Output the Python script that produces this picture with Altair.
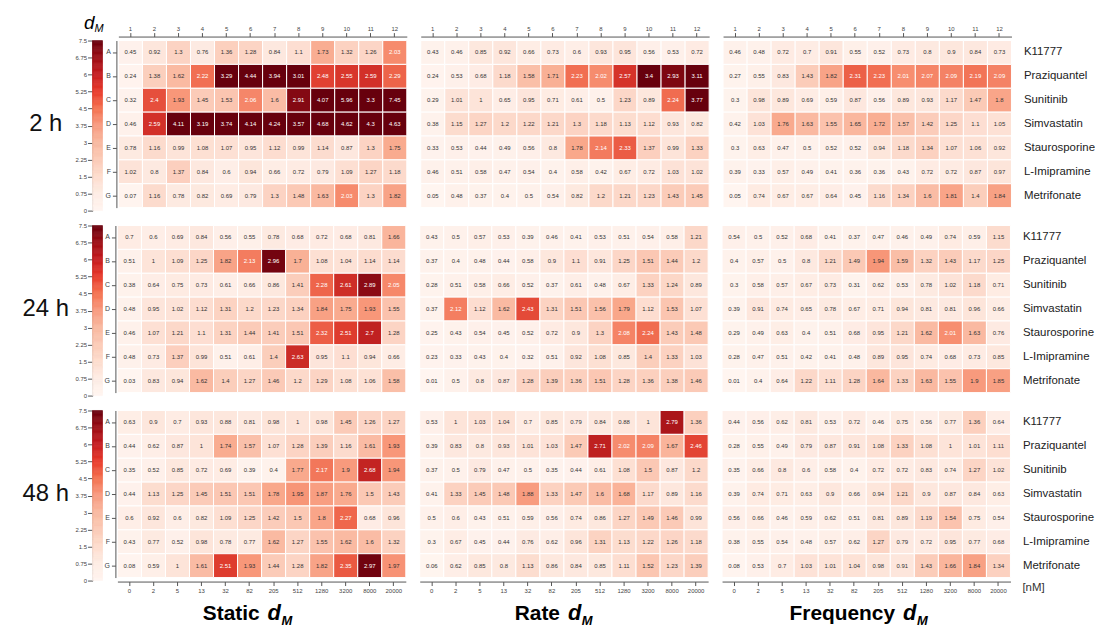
import altair as alt
import pandas as pd
import numpy as np

FONT = "Liberation Sans, Arial, sans-serif"

row_letters = ["A", "B", "C", "D", "E", "F", "G"]
compounds = ["K11777", "Praziquantel", "Sunitinib", "Simvastatin", "Staurosporine", "L-Imipramine", "Metrifonate"]
conc_labels = ["0", "2", "5", "13", "32", "82", "205", "512", "1280", "3200", "8000", "20000"]
col_index = list(range(1, 13))
time_labels = ["2 h", "24 h", "48 h"]
metric_labels = ["Static", "Rate", "Frequency"]
colorbar_ticks = [0, 0.75, 1.5, 2.25, 3, 3.75, 4.5, 5.25, 6, 6.75, 7.5]

# colour stops (value -> colour) for the cells and for the colour bar
cell_stops = [0, 0.5, 1.0, 1.5, 1.75, 2.0, 2.25, 2.5, 2.75, 3.0]
cell_colors = ["#fff5f0", "#fef1eb", "#fde4d9", "#fbc8b4", "#f9ab8f", "#f78f71", "#f06b4f", "#e03d2f", "#b81a1d", "#67000d"]
bar_colors = ["#fff5f0", "#feece4", "#fddccd", "#fbcab6", "#f9b89f", "#f89a7f",
              "#f4714f", "#e8392a", "#c51b1f", "#9c0d14", "#67000d"]

static_2h = [
    [0.45, 0.92, 1.3, 0.76, 1.36, 1.28, 0.84, 1.1, 1.73, 1.32, 1.26, 2.03],
    [0.24, 1.38, 1.62, 2.22, 3.29, 4.44, 3.94, 3.01, 2.48, 2.55, 2.59, 2.29],
    [0.32, 2.4, 1.93, 1.45, 1.53, 2.06, 1.6, 2.91, 4.07, 5.96, 3.3, 7.45],
    [0.46, 2.59, 4.11, 3.19, 3.74, 4.14, 4.24, 3.57, 4.68, 4.62, 4.3, 4.63],
    [0.78, 1.16, 0.99, 1.08, 1.07, 0.95, 1.12, 0.99, 1.14, 0.87, 1.3, 1.75],
    [1.02, 0.8, 1.37, 0.84, 0.6, 0.94, 0.66, 0.72, 0.79, 1.09, 1.27, 1.18],
    [0.07, 1.16, 0.78, 0.82, 0.69, 0.79, 1.3, 1.48, 1.63, 2.03, 1.3, 1.82],
]
rate_2h = [
    [0.43, 0.46, 0.85, 0.92, 0.66, 0.73, 0.6, 0.93, 0.95, 0.56, 0.53, 0.72],
    [0.24, 0.53, 0.68, 1.18, 1.58, 1.71, 2.23, 2.02, 2.57, 3.4, 2.93, 3.11],
    [0.29, 1.01, 1, 0.65, 0.95, 0.71, 0.61, 0.5, 1.23, 0.89, 2.24, 3.77],
    [0.38, 1.15, 1.27, 1.2, 1.22, 1.21, 1.3, 1.18, 1.13, 1.12, 0.93, 0.82],
    [0.33, 0.53, 0.44, 0.49, 0.56, 0.8, 1.78, 2.14, 2.33, 1.37, 0.99, 1.33],
    [0.46, 0.51, 0.58, 0.47, 0.54, 0.4, 0.58, 0.42, 0.67, 0.72, 1.03, 1.02],
    [0.05, 0.48, 0.37, 0.4, 0.5, 0.54, 0.82, 1.2, 1.21, 1.23, 1.43, 1.45],
]
freq_2h = [
    [0.46, 0.48, 0.72, 0.7, 0.91, 0.55, 0.52, 0.73, 0.8, 0.9, 0.84, 0.73],
    [0.27, 0.55, 0.83, 1.43, 1.82, 2.31, 2.23, 2.01, 2.07, 2.09, 2.19, 2.09],
    [0.3, 0.98, 0.89, 0.69, 0.59, 0.87, 0.56, 0.89, 0.93, 1.17, 1.47, 1.8],
    [0.42, 1.03, 1.76, 1.63, 1.55, 1.65, 1.72, 1.57, 1.42, 1.25, 1.1, 1.05],
    [0.3, 0.63, 0.47, 0.5, 0.52, 0.52, 0.94, 1.18, 1.34, 1.07, 1.06, 0.92],
    [0.39, 0.33, 0.57, 0.49, 0.41, 0.36, 0.36, 0.43, 0.72, 0.72, 0.87, 0.97],
    [0.05, 0.74, 0.67, 0.67, 0.64, 0.45, 1.16, 1.34, 1.6, 1.81, 1.4, 1.84],
]
static_24h = [
    [0.7, 0.6, 0.69, 0.84, 0.56, 0.55, 0.78, 0.68, 0.72, 0.68, 0.81, 1.66],
    [0.51, 1, 1.09, 1.25, 1.82, 2.13, 2.96, 1.7, 1.08, 1.04, 1.14, 1.14],
    [0.38, 0.64, 0.75, 0.73, 0.61, 0.66, 0.86, 1.41, 2.28, 2.61, 2.89, 2.05],
    [0.48, 0.95, 1.02, 1.12, 1.31, 1.2, 1.23, 1.34, 1.84, 1.75, 1.93, 1.55],
    [0.46, 1.07, 1.21, 1.1, 1.31, 1.44, 1.41, 1.51, 2.32, 2.51, 2.7, 1.28],
    [0.48, 0.73, 1.37, 0.99, 0.51, 0.61, 1.4, 2.63, 0.95, 1.1, 0.94, 0.66],
    [0.03, 0.83, 0.94, 1.62, 1.4, 1.27, 1.46, 1.2, 1.29, 1.08, 1.06, 1.58],
]
rate_24h = [
    [0.43, 0.5, 0.57, 0.53, 0.39, 0.46, 0.41, 0.53, 0.51, 0.54, 0.58, 1.21],
    [0.37, 0.4, 0.48, 0.44, 0.58, 0.9, 1.1, 0.91, 1.25, 1.51, 1.44, 1.2],
    [0.28, 0.51, 0.58, 0.66, 0.52, 0.37, 0.61, 0.48, 0.67, 1.33, 1.24, 0.89],
    [0.37, 2.12, 1.12, 1.62, 2.43, 1.31, 1.51, 1.56, 1.79, 1.12, 1.53, 1.07],
    [0.25, 0.43, 0.54, 0.45, 0.52, 0.72, 0.9, 1.3, 2.08, 2.24, 1.43, 1.48],
    [0.23, 0.33, 0.43, 0.4, 0.32, 0.51, 0.92, 1.08, 0.85, 1.4, 1.33, 1.03],
    [0.01, 0.5, 0.8, 0.87, 1.28, 1.39, 1.36, 1.51, 1.28, 1.36, 1.38, 1.46],
]
freq_24h = [
    [0.54, 0.5, 0.52, 0.68, 0.41, 0.37, 0.47, 0.46, 0.49, 0.74, 0.59, 1.15],
    [0.4, 0.57, 0.5, 0.8, 1.21, 1.49, 1.94, 1.59, 1.32, 1.43, 1.17, 1.25],
    [0.3, 0.58, 0.57, 0.67, 0.73, 0.31, 0.62, 0.53, 0.78, 1.02, 1.18, 0.71],
    [0.39, 0.91, 0.74, 0.65, 0.78, 0.67, 0.71, 0.94, 0.81, 0.81, 0.96, 0.66],
    [0.29, 0.49, 0.63, 0.4, 0.51, 0.68, 0.95, 1.21, 1.62, 2.01, 1.63, 0.76],
    [0.28, 0.47, 0.51, 0.42, 0.41, 0.48, 0.89, 0.95, 0.74, 0.68, 0.73, 0.85],
    [0.01, 0.4, 0.64, 1.22, 1.11, 1.28, 1.64, 1.33, 1.63, 1.55, 1.9, 1.85],
]
static_48h = [
    [0.63, 0.9, 0.7, 0.93, 0.88, 0.81, 0.98, 1, 0.98, 1.45, 1.26, 1.27],
    [0.44, 0.62, 0.87, 1, 1.74, 1.57, 1.07, 1.28, 1.39, 1.16, 1.61, 1.93],
    [0.35, 0.52, 0.85, 0.72, 0.69, 0.39, 0.4, 1.77, 2.17, 1.9, 2.68, 1.94],
    [0.44, 1.13, 1.25, 1.45, 1.51, 1.51, 1.78, 1.95, 1.87, 1.76, 1.5, 1.43],
    [0.6, 0.92, 0.6, 0.82, 1.09, 1.25, 1.42, 1.5, 1.8, 2.27, 0.68, 0.96],
    [0.43, 0.77, 0.52, 0.98, 0.78, 0.77, 1.62, 1.27, 1.55, 1.62, 1.6, 1.32],
    [0.08, 0.59, 1, 1.61, 2.51, 1.93, 1.44, 1.28, 1.82, 2.35, 2.97, 1.97],
]
rate_48h = [
    [0.53, 1, 1.03, 1.04, 0.7, 0.85, 0.79, 0.84, 0.88, 1, 2.79, 1.36],
    [0.39, 0.83, 0.8, 0.93, 1.01, 1.03, 1.47, 2.71, 2.02, 2.09, 1.67, 2.46],
    [0.37, 0.5, 0.79, 0.47, 0.5, 0.35, 0.44, 0.61, 1.08, 1.5, 0.87, 1.2],
    [0.41, 1.33, 1.45, 1.48, 1.88, 1.33, 1.47, 1.6, 1.68, 1.17, 0.89, 1.16],
    [0.5, 0.6, 0.43, 0.51, 0.59, 0.56, 0.74, 0.86, 1.27, 1.49, 1.46, 0.99],
    [0.3, 0.67, 0.45, 0.44, 0.76, 0.62, 0.96, 1.31, 1.13, 1.22, 1.26, 1.18],
    [0.06, 0.62, 0.85, 0.8, 1.13, 0.86, 0.84, 0.85, 1.11, 1.52, 1.23, 1.39],
]
freq_48h = [
    [0.44, 0.56, 0.62, 0.81, 0.53, 0.72, 0.46, 0.75, 0.56, 0.77, 1.36, 0.64],
    [0.28, 0.55, 0.49, 0.79, 0.87, 0.91, 1.08, 1.33, 1.08, 1, 1.01, 1.11],
    [0.35, 0.66, 0.8, 0.6, 0.58, 0.4, 0.72, 0.72, 0.83, 0.74, 1.27, 1.02],
    [0.39, 0.74, 0.71, 0.63, 0.9, 0.66, 0.94, 1.21, 0.9, 0.87, 0.84, 0.63],
    [0.56, 0.66, 0.46, 0.59, 0.62, 0.51, 0.81, 0.89, 1.19, 1.54, 0.75, 0.54],
    [0.38, 0.55, 0.54, 0.48, 0.57, 0.62, 1.27, 0.79, 0.72, 0.95, 0.77, 0.68],
    [0.08, 0.53, 0.7, 1.03, 1.01, 1.04, 0.98, 0.91, 1.43, 1.66, 1.84, 1.34],
]

panels = [
    [static_2h, rate_2h, freq_2h],
    [static_24h, rate_24h, freq_24h],
    [static_48h, rate_48h, freq_48h],
]

W, H = 290, 168
AX = "#555555"

letters_js = "[" + ",".join(f"'{r}'" for r in row_letters) + "]"
names_js = "[" + ",".join(f"'{c}'" for c in compounds) + "]"
conc_js = "[" + ",".join(f"'{c}'" for c in conc_labels) + "]"
name_expr = f"{names_js}[indexof({letters_js}, datum.value)]"
conc_expr = f"{conc_js}[datum.value - 1]"

# (right edge of word, left of "d", left of "M") within each bottom panel
title_pos = {"Static": (143, 151, 165), "Rate": (141, 149, 163), "Frequency": (174, 182, 196)}

cell_scale = alt.Scale(domain=cell_stops, range=cell_colors, interpolate="rgb", clamp=True)
bar_scale = alt.Scale(domain=colorbar_ticks, range=bar_colors, interpolate="rgb", clamp=True)


def heat_panel(vals, metric, t_idx):
    recs = []
    for i, r in enumerate(row_letters):
        for j, c in enumerate(col_index):
            v = vals[i][j]
            recs.append({"row": r, "col": c, "v": v, "label": f"{v:g}"})
    df = pd.DataFrame(recs)

    if t_idx == 0:
        xaxis = alt.Axis(orient="top", title=None, labelFontSize=6, tickSize=4,
                         labelPadding=1, offset=4, labelAngle=0)
    elif t_idx == 2:
        xaxis = alt.Axis(orient="bottom", title=None, labelFontSize=6, tickSize=4,
                         labelPadding=2, offset=4, labelAngle=0, labelExpr=conc_expr)
    else:
        xaxis = None

    if metric == "Static":
        yaxis = alt.Axis(orient="left", title=None, labelFontSize=7, tickSize=4,
                         labelPadding=2, offset=2)
    elif metric == "Frequency":
        yaxis = alt.Axis(orient="right", title=None, labelExpr=name_expr, labelFontSize=11.5,
                         labelColor="#222222", ticks=False, domain=False, labelPadding=12)
    else:
        yaxis = None

    x = alt.X("col:O", axis=xaxis, scale=alt.Scale(paddingInner=0, paddingOuter=0))
    y = alt.Y("row:O", sort=row_letters, axis=yaxis, scale=alt.Scale(paddingInner=0, paddingOuter=0))

    base = alt.Chart(df)
    rect = base.mark_rect(stroke="white", strokeWidth=1).encode(
        x=x, y=y,
        color=alt.Color("v:Q", scale=cell_scale, legend=None),
    )
    txt = base.mark_text(fontSize=6, font=FONT).encode(
        x=x, y=y, text="label:N",
        color=alt.condition(alt.datum.v >= 2, alt.value("white"), alt.value("#333333")),
    )
    layers = [rect, txt]
    if t_idx == 2:
        pw, pd_, pm = title_pos[metric]
        layers.append(alt.Chart(pd.DataFrame({"t": [metric]})).mark_text(
            fontSize=21, fontWeight="bold", font=FONT, align="right", baseline="alphabetic").encode(
            text="t:N", x=alt.value(pw), y=alt.value(H + 43)))
        layers.append(alt.Chart(pd.DataFrame({"t": ["d"]})).mark_text(
            fontSize=22, fontWeight="bold", fontStyle="italic", font=FONT,
            align="left", baseline="alphabetic").encode(
            text="t:N", x=alt.value(pd_), y=alt.value(H + 43)))
        layers.append(alt.Chart(pd.DataFrame({"t": ["M"]})).mark_text(
            fontSize=13, fontWeight="bold", fontStyle="italic", font=FONT,
            align="left", baseline="alphabetic").encode(
            text="t:N", x=alt.value(pm), y=alt.value(H + 48)))
        if metric == "Frequency":
            layers.append(alt.Chart(pd.DataFrame({"t": ["[nM]"]})).mark_text(
                fontSize=11.5, font=FONT, align="left", baseline="middle", color="#333333").encode(
                text="t:N", x=alt.value(W + 12), y=alt.value(H + 10)))
    return alt.layer(*layers).properties(width=W, height=H)


cb_vals = np.round(np.arange(0, 7.5, 0.05), 2)
cb_df = pd.DataFrame({"c": cb_vals, "c2": np.round(cb_vals + 0.05, 2)})


def colorbar(t_idx):
    rect = alt.Chart(cb_df).mark_rect(strokeWidth=0.6).encode(
        y=alt.Y("c:Q", scale=alt.Scale(domain=[0, 7.5], nice=False),
                axis=alt.Axis(values=colorbar_ticks, labelExpr="'' + datum.value", title=None,
                              labelFontSize=6, tickSize=5, labelPadding=1, grid=False)),
        y2="c2:Q",
        x=alt.value(0), x2=alt.value(10),
        color=alt.Color("c:Q", scale=bar_scale, legend=None),
        stroke=alt.Stroke("c:Q", scale=bar_scale, legend=None),
    )
    layers = [rect]
    if t_idx == 0:
        layers.append(alt.Chart(pd.DataFrame({"t": ["d"]})).mark_text(
            fontSize=19, fontStyle="italic", font=FONT, align="right", baseline="alphabetic").encode(
            text="t:N", x=alt.value(2), y=alt.value(-12)))
        layers.append(alt.Chart(pd.DataFrame({"t": ["M"]})).mark_text(
            fontSize=11, fontStyle="italic", font=FONT, align="left", baseline="alphabetic").encode(
            text="t:N", x=alt.value(2), y=alt.value(-9)))
    return alt.layer(*layers).properties(width=10, height=171)


def row_label(t_idx):
    return alt.Chart(pd.DataFrame({"t": [time_labels[t_idx]]})).mark_text(
        fontSize=24, font=FONT, align="center", baseline="middle", color="#111111").encode(
        text="t:N", x=alt.value(38), y=alt.value(H / 2)).properties(width=67, height=H)


rows_charts = []
for t_idx in range(3):
    inner = alt.hconcat(*[heat_panel(panels[t_idx][m], metric_labels[m], t_idx) for m in range(3)],
                        spacing=12).resolve_scale(color="independent")
    row = alt.hconcat(row_label(t_idx), colorbar(t_idx), inner, spacing=0).resolve_scale(
        color="independent", stroke="independent")
    rows_charts.append(row)

chart = alt.vconcat(*rows_charts, spacing=9).resolve_scale(
    color="independent", stroke="independent"
).properties(
    padding={"left": 0, "top": 4, "right": 0, "bottom": 0}
).configure_view(strokeWidth=0).configure_axis(
    labelFont=FONT, labelColor="#444444", domainColor=AX, tickColor=AX, grid=False
).configure_text(font=FONT)

chart.save("out.html", embed_options={"renderer": "svg", "actions": False})
